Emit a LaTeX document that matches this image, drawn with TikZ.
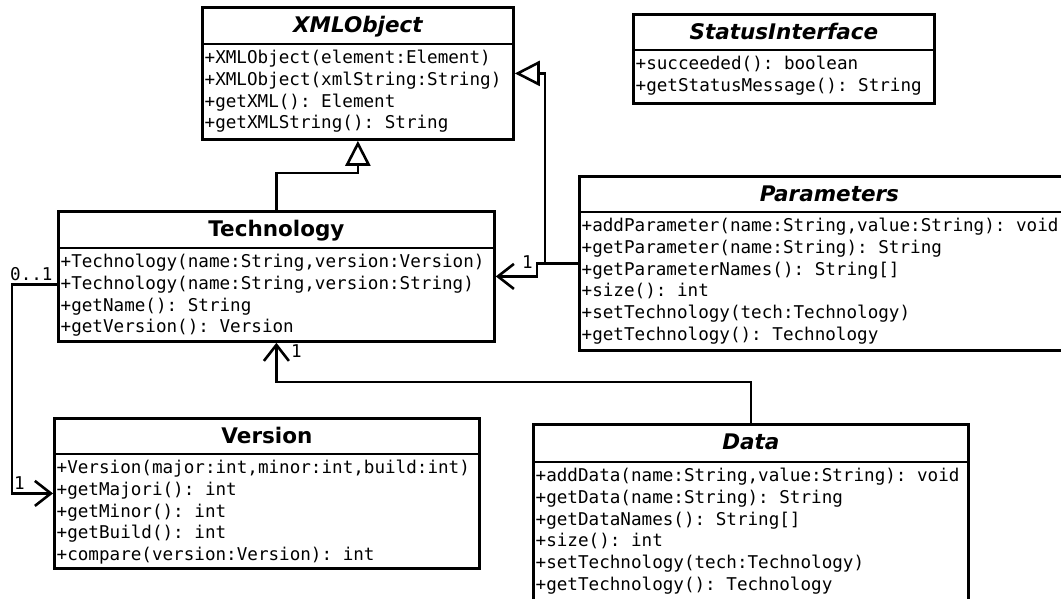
\documentclass[tikz,border=0pt]{standalone}
\usepackage{fontspec}
\setmonofont{DejaVu Sans Mono}
\newfontfamily\headfont{DejaVu Sans}
\usetikzlibrary{arrows.meta}

\tikzset{
  classbox/.style={draw, line width=2.8pt, fill=white, inner sep=0pt, anchor=north west},
  divider/.style={line width=2pt},
  heading/.style={font=\headfont\fontsize{21.5}{25}\selectfont\bfseries, anchor=base, inner sep=0pt},
  abstract/.style={heading, font=\headfont\fontsize{21.5}{25}\selectfont\bfseries\itshape},
  members/.style={font=\ttfamily\fontsize{17.6}{21.7}\selectfont, align=left, anchor=north west, inner sep=0pt},
  mult/.style={font=\ttfamily\fontsize{17.6}{21.7}\selectfont, anchor=base west, inner sep=0pt},
  wire/.style={line width=2.6pt},
  inherit/.style={wire, -{Triangle[open, length=25pt, width=25pt, line width=2.6pt]}},
  assoc/.style={wire, -{Straight Barb[length=16pt, width=25pt, line width=2.6pt]}},
}

% class box: id, x, y, width, height, title height, title style, title, operations
\newcommand\umlclass[9]{%
  \node[classbox, minimum width=#4, minimum height=#5] (#1) at (#2,#3) {};
  \draw[divider] ([yshift=-#6]#1.north west) -- ([yshift=-#6]#1.north east);
  \node[#7] (#1-name) at ([yshift=-26.5]#1.north) {#8};
  \node[members] (#1-ops) at ([xshift=3.5, yshift=-#6-6]#1.north west) {#9};
}

\begin{document}
\begin{tikzpicture}[x=1pt, y=-1pt]
  \fill[white] (0,0) rectangle (1061,598);
  \useasboundingbox (0,0) rectangle (1061,598);
  \clip (0,0) rectangle (1061,598);

  \umlclass{xml}{201}{6}{311}{132}{38}{abstract}{XMLObject}
    {+XMLObject(element:Element)\\+XMLObject(xmlString:String)\\+getXML(): Element\\+getXMLString(): String}

  \umlclass{status}{632}{13}{301}{89}{37}{abstract}{StatusInterface}
    {+succeeded(): boolean\\+getStatusMessage(): String}

  \umlclass{tech}{57}{210}{436}{130}{38}{heading}{Technology}
    {+Technology(name:String,version:Version)\\+Technology(name:String,version:String)\\+getName(): String\\+getVersion(): Version}

  \umlclass{params}{578}{175}{500}{174}{37}{abstract}{Parameters}
    {+addParameter(name:String,value:String): void\\+getParameter(name:String): String\\+getParameterNames(): String[]\\+size(): int\\+setTechnology(tech:Technology)\\+getTechnology(): Technology}

  \umlclass{version}{53}{417}{425}{150}{37}{heading}{Version}
    {+Version(major:int,minor:int,build:int)\\+getMajori(): int\\+getMinor(): int\\+getBuild(): int\\+compare(version:Version): int}

  \umlclass{data}{532}{423}{435}{185}{39}{abstract}{Data}
    {+addData(name:String,value:String): void\\+getData(name:String): String\\+getDataNames(): String[]\\+size(): int\\+setTechnology(tech:Technology)\\+getTechnology(): Technology}

  % generalisations
  \draw[inherit] (tech.north) -- ++(0,-37) -| (xml.south);
  \draw[inherit] (params.west) -- ++(-33,0) |- (xml.east);

  % associations
  \draw[assoc] (params.west) -- ++(-41,0) |- (tech.east);
  \draw[assoc] ([yshift=-8pt]tech.west) -- ++(-45,0) |- (version.west);
  \draw[assoc] (data.north) -- ++(0,-41) -| (tech.south);

  % multiplicities
  \node[mult] (m-tech-ver) at (10,280) {0..1};
  \node[mult] (m-ver) at (14,489) {1};
  \node[mult] (m-tech-data) at (291,357) {1};
  \node[mult] (m-tech-par) at (522,268) {1};
\end{tikzpicture}
\end{document}
